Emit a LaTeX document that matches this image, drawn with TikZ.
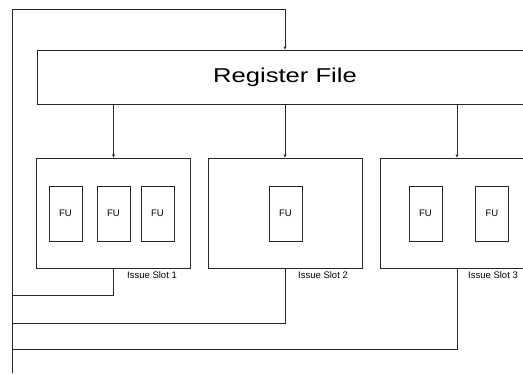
\documentclass[tikz,border=0pt]{standalone}
\usepackage{fontspec}
\setmainfont{Liberation Sans}
\usetikzlibrary{arrows.meta}
\tikzset{
  ln/.style={draw=black!85, line width=0.8pt},
  arr/.style={ln, -{Stealth[length=3.5pt,width=3pt]}},
  slotbox/.style={ln, rectangle, minimum width=154pt, minimum height=110pt, inner sep=0pt},
  fubox/.style={ln, rectangle, minimum width=33pt, minimum height=55pt, inner sep=0pt, font=\fontsize{9.5}{11}\selectfont},
  lbl/.style={anchor=west, inner sep=0pt, font=\fontsize{9.5}{11}\selectfont},
}
\begin{document}
\begin{tikzpicture}[x=1pt,y=-1pt]
\useasboundingbox (0,0) rectangle (523,373);
\clip (0,0) rectangle (523,373);
\fill[white] (0,0) rectangle (523,373);
\node[ln, rectangle, minimum width=496pt, minimum height=54pt, inner sep=0pt] (rf) at (285,77)
  {\fontsize{20}{24}\selectfont\scalebox{1.28}[1]{Register File}};
\node[slotbox] (s1) at (113.5,213) {};
\node[slotbox] (s2) at (285,213) {};
\node[slotbox] (s3) at (457,213) {};
\node[fubox] (f11) at (65.5,213.5) {FU};
\node[fubox] (f12) at (113.5,213.5) {FU};
\node[fubox] (f13) at (157.5,213.5) {FU};
\node[fubox] (f21) at (285.5,213.5) {FU};
\node[fubox] (f31) at (425.5,213.5) {FU};
\node[fubox] (f32) at (492,213.5) {FU};
\node[lbl] (l1) at (127,275.5) {Issue Slot 1};
\node[lbl] (l2) at (298,275.5) {Issue Slot 2};
\node[lbl] (l3) at (468,275.5) {Issue Slot 3};
\coordinate (tl) at (12,9);
\coordinate (bl) at (12,373);
\coordinate (c1) at (12,295);
\coordinate (c2) at (12,323);
\coordinate (c3) at (12,349);
\draw[arr] (bl) -- (tl) -| (rf.north);
\draw[arr] (rf.south -| s1.north) -- (s1.north);
\draw[arr] (rf.south -| s2.north) -- (s2.north);
\draw[arr] (rf.south -| s3.north) -- (s3.north);
\draw[ln] (s1.south) |- (c1);
\draw[ln] (s2.south) |- (c2);
\draw[ln] (s3.south) |- (c3);
\end{tikzpicture}
\end{document}
